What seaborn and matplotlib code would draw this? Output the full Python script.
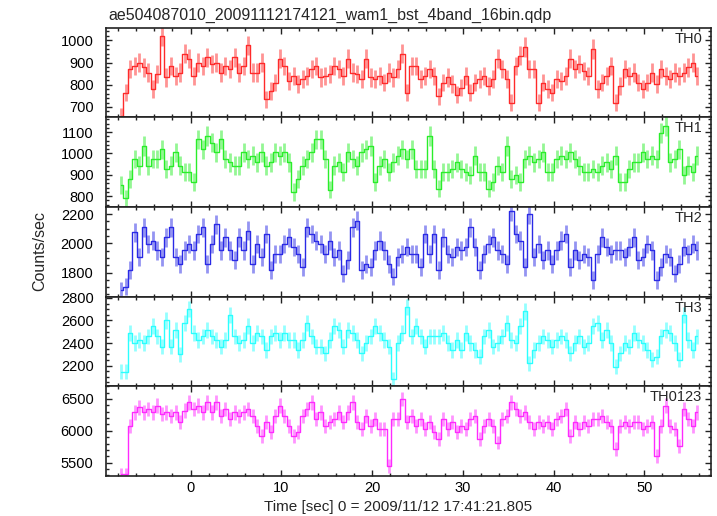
import numpy as np
import seaborn as sns
import matplotlib.pyplot as plt
from matplotlib.ticker import MultipleLocator

# light curve values (counts/sec), 0.5 s bins
th0 = [660, 764, 870, 885, 900, 878, 855, 780, 848, 1020, 833, 885, 840, 855, 940, 916,
       840, 900, 885, 924, 893, 900, 855, 885, 870, 924, 855, 885, 977, 855, 855, 900,
       734, 772, 810, 916, 885, 817, 840, 802, 825, 840, 870, 885, 833, 840, 848, 885,
       870, 840, 916, 855, 848, 825, 916, 833, 825, 840, 810, 855, 833, 870, 940, 764,
       885, 885, 825, 840, 870, 840, 749, 810, 833, 802, 756, 787, 840, 764, 810, 825,
       840, 795, 825, 916, 870, 825, 719, 885, 931, 970, 870, 870, 719, 810, 780, 764,
       825, 817, 840, 916, 870, 893, 863, 840, 962, 780, 810, 840, 885, 719, 795, 870,
       840, 855, 810, 780, 810, 855, 802, 870, 840, 825, 855, 840, 855, 878, 900, 840]
th1 = [851, 789, 882, 974, 943, 1035, 943, 974, 974, 1020, 928, 943, 1005, 943, 912, 912,
       866, 1066, 1020, 1082, 1051, 1005, 1066, 974, 958, 943, 943, 1005, 974, 989, 958, 1005,
       943, 958, 1005, 989, 1005, 958, 820, 882, 943, 974, 1005, 1066, 1066, 974, 830, 943,
       958, 912, 1005, 974, 943, 1005, 1020, 1035, 866, 943, 974, 912, 958, 989, 1020, 974,
       1020, 928, 928, 928, 1082, 928, 835, 912, 912, 928, 958, 928, 912, 897, 989, 912,
       912, 835, 866, 943, 912, 1035, 882, 897, 866, 974, 989, 958, 974, 1005, 912, 912,
       974, 989, 974, 1005, 974, 943, 912, 912, 928, 912, 943, 958, 928, 989, 866, 866,
       928, 958, 958, 1005, 974, 989, 974, 1097, 1128, 958, 974, 1020, 897, 943, 912, 989]
th2 = [1680, 1703, 1816, 2076, 1906, 2110, 1997, 2019, 1951, 1906, 2042, 2110, 1906, 1861, 1951, 1997,
       1951, 2064, 2110, 1861, 1997, 2132, 1951, 2042, 1951, 1884, 2042, 1951, 2087, 1861, 1997, 1906,
       2064, 1816, 1929, 1929, 1997, 2042, 1974, 1929, 1838, 2110, 2064, 2019, 1997, 1929, 2019, 1906,
       1951, 1793, 1884, 2110, 2155, 1816, 1861, 1838, 1951, 2019, 1951, 1861, 1771, 1906, 1929, 1974,
       1929, 1929, 1838, 2064, 1929, 2064, 1816, 2042, 1929, 1906, 1974, 1951, 1974, 2110, 1974, 1816,
       1929, 1997, 2042, 1951, 1929, 1861, 2223, 2064, 2019, 1838, 2200, 1906, 1997, 1884, 1951, 1861,
       1951, 2019, 2064, 1838, 1951, 1884, 1929, 1906, 1748, 1929, 2042, 1974, 1929, 1951, 1951, 1906,
       1974, 2042, 1884, 1906, 1997, 1951, 1748, 1838, 1929, 1906, 1793, 1861, 1974, 1929, 1997, 1951]
th3 = [2147, 2147, 2487, 2400, 2428, 2400, 2458, 2547, 2458, 2369, 2600, 2369, 2517, 2300, 2576, 2700,
       2487, 2428, 2458, 2517, 2458, 2428, 2369, 2428, 2650, 2458, 2400, 2428, 2547, 2400, 2487, 2458,
       2339, 2458, 2487, 2428, 2487, 2428, 2428, 2339, 2428, 2576, 2458, 2369, 2369, 2310, 2428, 2547,
       2517, 2369, 2517, 2487, 2428, 2310, 2400, 2458, 2547, 2487, 2428, 2369, 2080, 2400, 2487, 2720,
       2458, 2547, 2458, 2369, 2458, 2458, 2458, 2487, 2400, 2339, 2428, 2339, 2487, 2400, 2339, 2280,
       2458, 2517, 2369, 2400, 2458, 2576, 2428, 2400, 2547, 2680, 2221, 2339, 2400, 2458, 2428, 2369,
       2428, 2458, 2428, 2310, 2400, 2458, 2369, 2400, 2547, 2576, 2428, 2517, 2400, 2191, 2310, 2400,
       2369, 2487, 2428, 2400, 2339, 2250, 2280, 2458, 2517, 2487, 2400, 2250, 2650, 2428, 2339, 2458]
th0123 = [5316, 5316, 6079, 6289, 6368, 6289, 6342, 6289, 6395, 6263, 6289, 6237, 6289, 6132, 6316, 6447,
          6342, 6395, 6289, 6447, 6289, 6447, 6237, 6342, 6184, 6289, 6237, 6289, 6342, 6237, 6079, 5921,
          6132, 5974, 6237, 6395, 6237, 6079, 5921, 5974, 6237, 6342, 6447, 6184, 6289, 6079, 6132, 6184,
          6289, 6132, 6289, 6447, 6132, 6026, 6237, 6079, 6184, 6026, 6026, 5450, 6184, 6184, 6500, 6132,
          6237, 6079, 6184, 6026, 6132, 5974, 5868, 6184, 6026, 6132, 5974, 6079, 6026, 6184, 6237, 5868,
          6079, 6184, 6079, 5816, 6184, 6237, 6447, 6342, 6237, 6289, 6132, 6026, 6132, 6079, 6132, 6026,
          6184, 6237, 6342, 5921, 6132, 6026, 6132, 6079, 6184, 6184, 6237, 6132, 6079, 5711, 6079, 6132,
          6079, 6132, 6132, 6026, 6079, 6132, 5605, 6079, 6395, 6079, 6026, 5763, 6342, 6184, 6079, 6289]

names = ['TH0', 'TH1', 'TH2', 'TH3', 'TH0123']
series = [th0, th1, th2, th3, th0123]
colors = ['#ff2a2a', '#2aee2a', '#2a2ae6', '#2affff', '#ff2aff']
ylims = [(653, 1056), (749, 1169), (1635, 2249), (2017, 2812), (5295, 6700)]
major = [100, 100, 200, 200, 500]
minor = [20, 20, 50, 50, 100]

t_start = -7.9
bin_w = 0.5

sns.set_theme(style='ticks')
plt.rcParams['font.family'] = ['Liberation Sans', 'DejaVu Sans']

fig, axes = plt.subplots(5, 1, figsize=(7.17, 5.16), dpi=100, sharex=True)
fig.subplots_adjust(left=0.148, right=0.991, top=0.946, bottom=0.078, hspace=0)

for ax, name, vals, c, yl, mj, mn in zip(axes, names, series, colors, ylims, major, minor):
    vals = np.array(vals, dtype=float)
    t = t_start + bin_w / 2 + bin_w * np.arange(len(vals))
    err = np.sqrt(vals / bin_w)  # poisson error
    ax.errorbar(t, vals, yerr=err, fmt='none', ecolor=c, alpha=0.5, elinewidth=2.0)
    sns.lineplot(x=t, y=vals, drawstyle='steps-mid', color=c, lw=1.0, ax=ax)
    ax.set_ylim(*yl)
    ax.set_xlim(-9.3, 57.3)
    ax.yaxis.set_major_locator(MultipleLocator(mj))
    ax.yaxis.set_minor_locator(MultipleLocator(mn))
    ax.xaxis.set_major_locator(MultipleLocator(10))
    ax.xaxis.set_minor_locator(MultipleLocator(2))
    ax.tick_params(which='both', direction='in', top=True, right=True, colors='#222222',
                   labelcolor='black', labelsize=10.5, width=1)
    ax.tick_params(which='major', length=4.5)
    ax.tick_params(which='minor', length=2.2)
    ax.tick_params(axis='y', pad=9)
    ax.tick_params(axis='x', pad=3.5)
    for sp in ax.spines.values():
        sp.set_color('#222222')
        sp.set_linewidth(1.2)
    ax.set_ylabel('')
    ax.text(0.986, 0.955, name, transform=ax.transAxes, ha='right', va='top', fontsize=10.5)

fig.text(108 / 717, 1 - 20 / 516, 'ae504087010_20091112174121_wam1_bst_4band_16bin.qdp',
         ha='left', va='baseline', fontsize=11.5)
fig.text(40 / 717, 1 - 251 / 516, 'Counts/sec', rotation=90, ha='center', va='center', fontsize=11.5)
fig.text(398 / 717, 1 - 507 / 516, 'Time [sec] 0 = 2009/11/12 17:41:21.805',
         ha='center', va='center', fontsize=11)

fig.savefig('out.png', dpi=100)
